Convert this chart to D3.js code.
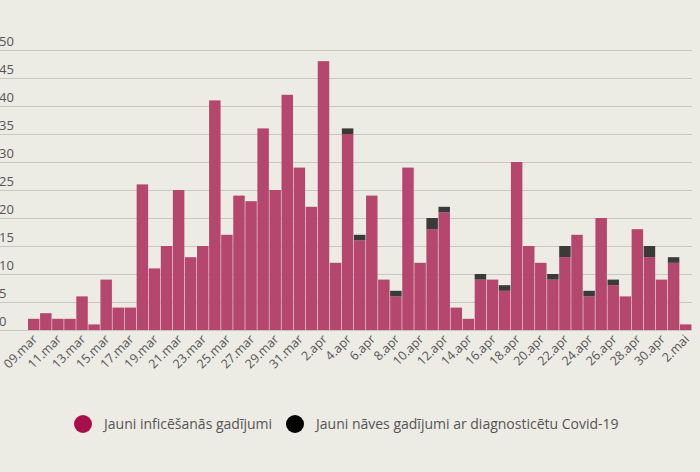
<!DOCTYPE html>
<html><head><meta charset="utf-8">
<script src="https://cdn.jsdelivr.net/npm/d3@7"></script>
<style>
  body{margin:0;background:#ecebe4;font-family:"Open Sans",sans-serif;}
</style></head>
<body><div id="chart"></div>
<script>
  // one entry per day, 09.mar .. 2.mai
  var days = ["09.mar","10.mar","11.mar","12.mar","13.mar","14.mar","15.mar","16.mar","17.mar","18.mar",
    "19.mar","20.mar","21.mar","22.mar","23.mar","24.mar","25.mar","26.mar","27.mar","28.mar","29.mar",
    "30.mar","31.mar","1.apr","2.apr","3.apr","4.apr","5.apr","6.apr","7.apr","8.apr","9.apr","10.apr",
    "11.apr","12.apr","13.apr","14.apr","15.apr","16.apr","17.apr","18.apr","19.apr","20.apr","21.apr",
    "22.apr","23.apr","24.apr","25.apr","26.apr","27.apr","28.apr","29.apr","30.apr","1.mai","2.mai"];
  var infected = [2,3,2,2,6,1,9,4,4,26,11,15,25,13,15,41,17,24,23,36,25,42,29,22,48,12,35,16,24,9,6,29,12,
    18,21,4,2,9,9,7,30,15,12,9,13,17,6,20,8,6,18,13,9,12,1];
  var deaths = [0,0,0,0,0,0,0,0,0,0,0,0,0,0,0,0,0,0,0,0,0,0,0,0,0,0,1,1,0,0,1,0,0,
    2,1,0,0,1,0,1,0,0,0,1,2,0,1,0,1,0,0,2,0,1,0];
  var yTicks = [0,5,10,15,20,25,30,35,40,45,50];
  var labels = ["Jauni inficēšanās gadījumi","Jauni nāves gadījumi ar diagnosticētu Covid-19"];
  var colors = ["#b5466e","#3a3a38"];

  var W = 700, H = 472, m = {left:28, right:8, top:50, bottom:142};
  var svg = d3.select("#chart").append("svg").attr("width", W).attr("height", H);

  var x = d3.scaleBand().domain(days).range([m.left, W - m.right]).padding(0);
  var y = d3.scaleLinear().domain([0, 50]).range([H - m.bottom, m.top]);

  // grid + labels
  svg.append("g").selectAll("line").data(yTicks).enter().append("line")
    .attr("x1", 0).attr("x2", W - m.right)
    .attr("y1", function(d){return y(d) + 0.5;}).attr("y2", function(d){return y(d) + 0.5;})
    .attr("stroke", "#c9c8c0").attr("stroke-width", 1.2);
  svg.append("g").selectAll("text").data(yTicks).enter().append("text")
    .attr("x", -1).attr("y", function(d){return y(d) - 4;})
    .attr("fill", "#555").attr("font-size", 13).text(function(d){return d;});

  var stack = d3.stack().keys(["inf","dead"])(days.map(function(d, i){
    return {day: d, inf: infected[i], dead: deaths[i]};
  }));
  svg.append("g").selectAll("g").data(stack).enter().append("g")
    .attr("fill", function(d, i){return colors[i];})
    .selectAll("rect").data(function(d){return d;}).enter().append("rect")
    .attr("x", function(d){return x(d.data.day);})
    .attr("width", x.bandwidth() - 0.6)
    .attr("y", function(d){return y(d[1]);})
    .attr("height", function(d){return y(d[0]) - y(d[1]);});

  // every other date label, rotated
  svg.append("g").selectAll("text").data(days.filter(function(d, i){return i % 2 == 0;}))
    .enter().append("text")
    .attr("transform", function(d){
      return "translate(" + (x(d) + x.bandwidth() / 2 + 4) + "," + (H - m.bottom + 10) + ") rotate(-45)";
    })
    .attr("text-anchor", "end").attr("font-size", 12.5).attr("fill", "#555")
    .text(function(d){return d;});

  // legend
  var leg = svg.append("g").attr("transform", "translate(83,424)");
  var lx = [0, 212];
  labels.forEach(function(t, i){
    leg.append("circle").attr("cx", lx[i]).attr("cy", 0).attr("r", 9)
      .attr("fill", i == 0 ? "#a80f48" : "#000");
    leg.append("text").attr("x", lx[i] + 21).attr("y", 5).attr("font-size", 14)
      .attr("fill", "#555").text(t);
  });
</script>
</body></html>
